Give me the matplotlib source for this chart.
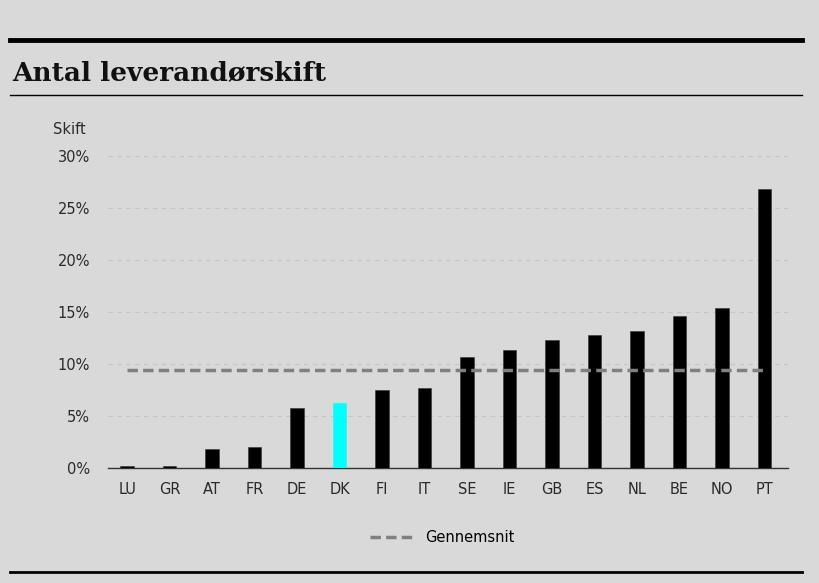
import matplotlib
matplotlib.use("Agg")
import matplotlib.pyplot as plt
from matplotlib.lines import Line2D

# Data
landen = ["LU", "GR", "AT", "FR", "DE", "DK", "FI", "IT", "SE", "IE", "GB", "ES", "NL", "BE", "NO", "PT"]
skift = [0.2, 0.2, 1.8, 2.0, 5.8, 6.25, 7.5, 7.7, 10.7, 11.3, 12.3, 12.8, 13.2, 14.65, 15.35, 26.8]
gennemsnit = 9.42
yticks = [0, 5, 10, 15, 20, 25, 30]

bg = "#d9d9d9"
fig = plt.figure(figsize=(8.2, 5.83), dpi=100, facecolor=bg)

# Kopregel en titel
fig.add_artist(Line2D([10 / 820, 802 / 820], [1 - 40 / 583, 1 - 40 / 583], color="black", lw=3.5))
fig.text(12 / 820, 1 - 73 / 583, "Antal leverandørskift", fontsize=19, fontweight="heavy",
         family="DejaVu Serif", va="center", ha="left", color="#111111")
fig.add_artist(Line2D([10 / 820, 802 / 820], [1 - 95 / 583, 1 - 95 / 583], color="black", lw=1))
fig.add_artist(Line2D([10 / 820, 802 / 820], [1 - 572 / 583, 1 - 572 / 583], color="black", lw=2))

ax = fig.add_axes([108 / 820, 1 - 468 / 583, (788 - 108) / 820, (468 - 156) / 583])
ax.set_facecolor(bg)

x = list(range(len(landen)))
kleuren = ["#00ffff" if l == "DK" else "black" for l in landen]
randen = ["#00ffff" if l == "DK" else "#333333" for l in landen]
ax.bar(x, skift, width=0.32, color=kleuren, edgecolor=randen, linewidth=0.4, zorder=3)
ax.plot([0, len(landen) - 1], [gennemsnit, gennemsnit], color="#808080", lw=2.5,
        linestyle=(0, (3, 1.5)), zorder=4, label="Gennemsnit")

ax.set_xlim(-0.45, len(landen) - 0.45)
ax.set_ylim(0, 30)
ax.set_yticks(yticks)
ax.set_yticklabels([f"{v}%" for v in yticks])
ax.set_xticks(x)
ax.set_xticklabels(landen)
ax.tick_params(axis="both", length=0, labelsize=10.5, colors="#2a2a2a", pad=10)
ax.tick_params(axis="y", pad=13)
ax.yaxis.grid(True, color="#c4c4c4", linestyle=(0, (4, 4)), lw=0.8, zorder=0)
for s in ["top", "right", "left"]:
    ax.spines[s].set_visible(False)
ax.spines["bottom"].set_color("#333333")
ax.spines["bottom"].set_linewidth(1)

fig.text(53 / 820, 1 - 130 / 583, "Skift", fontsize=10.5, color="#2a2a2a", va="center", ha="left")

fig.legend(loc="center", bbox_to_anchor=(442 / 820, 1 - 538 / 583), frameon=False,
           fontsize=10.5, handlelength=3)

plt.savefig("out.png", dpi=100, facecolor=bg)
